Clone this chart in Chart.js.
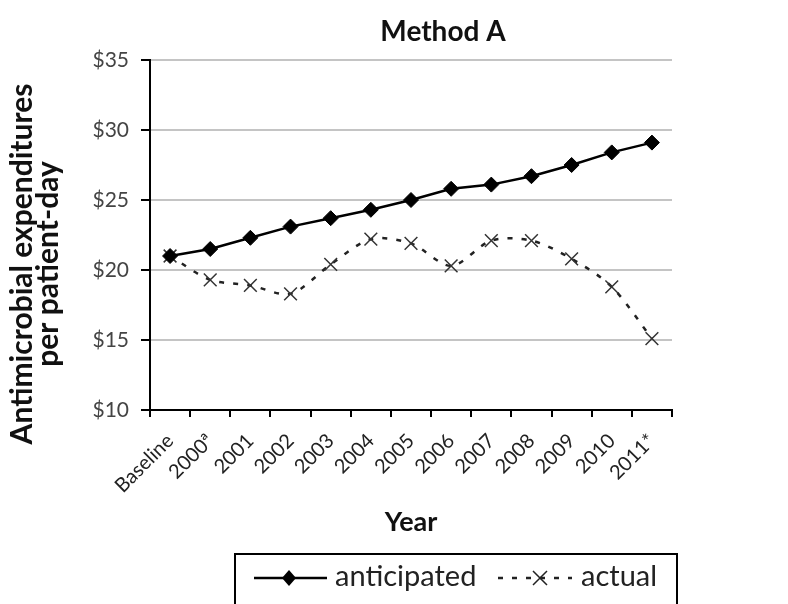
<!DOCTYPE html>
<html>
<head>
<meta charset="utf-8">
<script src="https://cdn.jsdelivr.net/npm/chart.js@4"></script>
<style>
  html, body { margin: 0; padding: 0; background: #fff; }
  #wrap { width: 788px; height: 604px; position: relative; }
</style>
</head>
<body>
<div id="wrap"><canvas id="method-a-chart"></canvas></div>
<script>
let years = ['Baseline', '2000\u00aa', '2001', '2002', '2003', '2004', '2005', '2006', '2007', '2008', '2009', '2010', '2011*'];
let anticipated = [21.0, 21.5, 22.3, 23.1, 23.7, 24.3, 25.0, 25.8, 26.1, 26.7, 27.5, 28.4, 29.1];
let actual = [21.0, 19.3, 18.9, 18.3, 20.4, 22.2, 21.9, 20.3, 22.1, 22.1, 20.8, 18.8, 15.1];
let yTicks = [10, 15, 20, 25, 30, 35];
let yTitle = ['Antimicrobial expenditures', 'per patient-day'];

const fontFamily = "Lato, 'Open Sans', sans-serif";

// Title, y title and boxed legend, drawn by hand like the Excel original
const decorations = {
    id: 'decorations',
    afterDraw(chart) {
        const c = chart.ctx;
        c.save();
        c.fillStyle = '#111';
        c.font = "bold 28px " + fontFamily;
        c.textAlign = 'center';
        c.textBaseline = 'alphabetic';
        c.fillText('Method A', 443, 41);

        // y axis title (sits a bit below the middle of the axis)
        c.save();
        c.translate(0, 264);
        c.rotate(-Math.PI / 2);
        c.font = "bold 30px " + fontFamily;
        c.textBaseline = 'middle';
        c.fillText(yTitle[0], 0, 22);
        c.fillText(yTitle[1], 0, 48);
        c.restore();

        // legend box
        c.strokeStyle = '#000';
        c.lineWidth = 2;
        c.strokeRect(235, 554, 442, 60);

        const ly = 578;
        const ds = chart.data.datasets;
        // anticipated
        c.setLineDash([]);
        c.lineWidth = 2.5;
        c.strokeStyle = ds[0].borderColor;
        c.beginPath(); c.moveTo(254, ly); c.lineTo(327, ly); c.stroke();
        c.fillStyle = ds[0].pointBackgroundColor;
        c.beginPath();
        c.moveTo(289, ly - 8); c.lineTo(296, ly); c.lineTo(289, ly + 8); c.lineTo(282, ly);
        c.closePath(); c.fill();
        c.fillStyle = '#222';
        c.font = "29px " + fontFamily;
        c.textAlign = 'left';
        c.textBaseline = 'middle';
        c.fillText(ds[0].label, 335, ly - 1);
        // actual
        c.strokeStyle = ds[1].borderColor;
        c.lineWidth = 2.5;
        c.setLineDash([5, 9]);
        c.beginPath(); c.moveTo(498, ly); c.lineTo(572, ly); c.stroke();
        c.setLineDash([]);
        c.lineWidth = 1.5;
        c.beginPath();
        c.moveTo(533, ly - 7); c.lineTo(547, ly + 7);
        c.moveTo(547, ly - 7); c.lineTo(533, ly + 7);
        c.stroke();
        c.fillText(ds[1].label, 581, ly - 1);
        c.restore();
    }
};

const ctx = document.getElementById('method-a-chart');

let chart = new Chart(ctx, {
    type: 'line',
    data: {
        labels: years,
        datasets: [{
            label: 'anticipated',
            data: anticipated,
            borderColor: '#000',
            borderWidth: 2.5,
            pointStyle: 'rectRot',
            pointRadius: 7.5,
            pointBackgroundColor: '#000',
            pointBorderColor: '#000',
            pointBorderWidth: 1,
            tension: 0
        }, {
            label: 'actual',
            data: actual,
            borderColor: '#222',
            borderWidth: 2.5,
            borderDash: [5, 9],
            pointStyle: 'crossRot',
            pointRadius: 9,
            pointBorderColor: '#333',
            pointBorderWidth: 1.5,
            tension: 0.3
        }]
    },
    options: {
        responsive: true,
        maintainAspectRatio: false,
        animation: false,
        layout: {
            padding: { top: 60, right: 116, bottom: 64, left: 0 }
        },
        scales: {
            y: {
                min: 10,
                max: 35,
                afterBuildTicks: (s) => { s.ticks = yTicks.map(v => ({ value: v })); },
                afterFit: (s) => { s.width = 150; },
                border: { color: '#000', width: 2 },
                grid: {
                    color: '#c4c4c4',
                    lineWidth: 2,
                    tickColor: '#000',
                    tickLength: 9
                },
                ticks: {
                    color: '#444',
                    padding: 12,
                    font: { family: fontFamily, size: 21 },
                    callback: (v) => '$' + v
                }
            },
            x: {
                offset: true,
                afterFit: (s) => { s.height = 130; },
                border: { color: '#000', width: 2 },
                grid: {
                    offset: true,
                    drawOnChartArea: false,
                    tickColor: '#000',
                    tickLength: 7,
                    lineWidth: 2
                },
                ticks: {
                    color: '#222',
                    minRotation: 45,
                    maxRotation: 45,
                    padding: 12,
                    autoSkip: false,
                    font: { family: fontFamily, size: 20 }
                },
                title: {
                    display: true,
                    text: 'Year',
                    color: '#111',
                    font: { family: fontFamily, size: 27, weight: 'bold' },
                    padding: { top: 0, bottom: 2 }
                }
            }
        },
        plugins: {
            legend: { display: false },
            tooltip: { enabled: false }
        }
    },
    plugins: [decorations]
});
</script>
</body>
</html>
